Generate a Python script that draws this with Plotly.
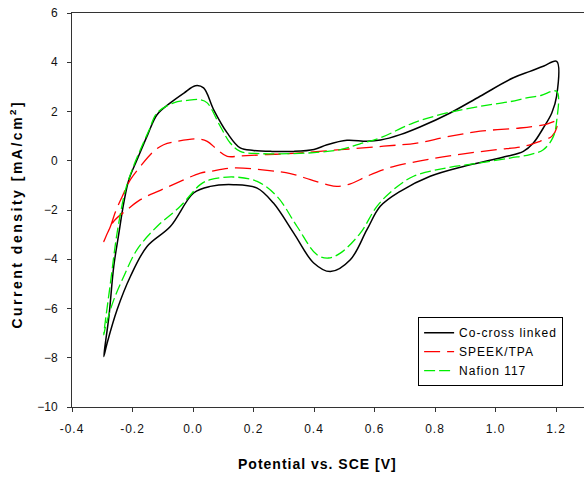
import plotly.graph_objects as go

# Co-cross linked (black, solid): anodic scan then cathodic scan
black_x = [-0.295, -0.278, -0.262, -0.245, -0.229, -0.212, -0.185, -0.15, -0.119, -0.075, -0.03,
           0.008, 0.035, 0.068, 0.113, 0.156, 0.2, 0.26, 0.333, 0.4, 0.443, 0.509, 0.575, 0.62,
           0.685, 0.75, 0.85, 0.949, 1.059, 1.114, 1.16, 1.202,
           1.202, 1.186, 1.158, 1.125, 1.092, 1.037, 0.982, 0.894, 0.784, 0.685, 0.619, 0.575,
           0.52, 0.454, 0.399, 0.333, 0.266, 0.212, 0.134, 0.057, 0.002, -0.075, -0.152, -0.207,
           -0.251, -0.284, -0.295]
black_y = [-7.95, -6.33, -4.29, -2.94, -1.72, -0.77, 0.04, 1.05, 1.87, 2.35, 2.75,
           3.05, 2.96, 2.08, 1.13, 0.52, 0.42, 0.38, 0.38, 0.46, 0.65, 0.83, 0.79, 0.84,
           1.06, 1.37, 1.94, 2.62, 3.37, 3.63, 3.85, 4.04,
           2.62, 1.94, 1.33, 0.72, 0.38, 0.18, 0.02, -0.23, -0.63, -1.24, -1.85, -2.8,
           -4.02, -4.5, -4.15, -2.94, -1.72, -1.11, -0.97, -1.04, -1.31, -2.67, -3.48, -4.7,
           -6.05, -7.41, -7.95]

# SPEEK/TPA (red, long dash)
red_x = [-0.295, -0.273, -0.256, -0.234, -0.207, -0.174, -0.13, -0.097, -0.053, 0.013, 0.047,
         0.08, 0.113, 0.16, 0.245, 0.333, 0.487, 0.63, 0.74, 0.839, 0.949, 1.081, 1.164, 1.202,
         1.202, 1.186, 1.147, 1.092, 1.004, 0.894, 0.784, 0.674, 0.63, 0.575, 0.52, 0.476,
         0.443, 0.388, 0.322, 0.245, 0.134, 0.057, 0.024, -0.042, -0.108, -0.174, -0.218,
         -0.262, -0.295]
red_y = [-3.28, -2.67, -2.06, -1.45, -0.77, -0.23, 0.38, 0.65, 0.79, 0.89, 0.79,
         0.45, 0.18, 0.2, 0.25, 0.3, 0.45, 0.59, 0.72, 0.97, 1.2, 1.33, 1.47, 1.6,
         1.33, 0.99, 0.79, 0.58, 0.45, 0.28, 0.07, -0.2, -0.36, -0.63, -0.94, -1.04,
         -0.97, -0.77, -0.52, -0.39, -0.29, -0.43, -0.5, -0.84, -1.2, -1.58, -1.99,
         -2.46, -3.28]

# Nafion 117 (green, dashed)
green_x = [-0.295, -0.273, -0.251, -0.223, -0.201, -0.174, -0.145, -0.119, -0.064, -0.02,
           0.024, 0.047, 0.09, 0.123, 0.156, 0.223, 0.333, 0.42, 0.487, 0.55, 0.619, 0.729,
           0.839, 0.949, 1.048, 1.103, 1.15, 1.202,
           1.202, 1.19, 1.158, 1.114, 1.048, 0.949, 0.839, 0.729, 0.663, 0.608, 0.553, 0.487,
           0.448, 0.41, 0.344, 0.278, 0.212, 0.134, 0.057, 0.024, -0.042, -0.119, -0.185,
           -0.229, -0.262, -0.289, -0.295]
green_y = [-7.07, -4.97, -2.94, -1.17, -0.36, 0.45, 1.25, 1.94, 2.35, 2.45,
           2.48, 2.35, 1.4, 0.72, 0.38, 0.29, 0.29, 0.35, 0.45, 0.68, 0.93, 1.54,
           1.94, 2.21, 2.4, 2.55, 2.65, 2.82,
           1.6, 0.95, 0.45, 0.25, 0.11, -0.09, -0.29, -0.63, -1.17, -1.85, -2.94, -3.75,
           -3.95, -3.82, -2.67, -1.45, -0.84, -0.66, -0.77, -0.97, -1.85, -2.67, -3.61,
           -4.7, -5.65, -6.73, -7.07]

series_names = ["Co-cross linked", "SPEEK/TPA", "Nafion 117"]

x_ticks = [-0.4, -0.2, 0.0, 0.2, 0.4, 0.6, 0.8, 1.0, 1.2]
x_tick_labels = ["-0.4", "-0.2", "0.0", "0.2", "0.4", "0.6", "0.8", "1.0", "1.2"]
y_ticks = [-10, -8, -6, -4, -2, 0, 2, 4, 6]

FONT = "Liberation Sans, Arial, sans-serif"

def sp(text, px):
    return '<span style="letter-spacing:%spx">%s</span>' % (px, text)

fig = go.Figure()
styles = [
    (black_x, black_y, "#000000", 1.5, "solid"),
    (red_x, red_y, "#ff0000", 1.3, "16px,7px"),
    (green_x, green_y, "#00ee00", 1.3, "11px,4px"),
]
for (xs, ys, col, w, dash), name in zip(styles, series_names):
    fig.add_trace(go.Scatter(
        x=xs, y=ys, mode="lines", name=sp(name, 1),
        line=dict(color=col, width=w, dash=dash, shape="spline", smoothing=1.0),
    ))

fig.update_layout(
    width=584, height=478,
    margin=dict(l=72, r=0, t=13, b=71, autoexpand=False),
    paper_bgcolor="white", plot_bgcolor="white",
    font=dict(family=FONT, size=12, color="#000000"),
    showlegend=True,
    legend=dict(
        x=0.676, y=0.228, xanchor="left", yanchor="top",
        bgcolor="white", bordercolor="#000000", borderwidth=1,
        font=dict(family=FONT, size=12, color="#000000"),
        tracegroupgap=0, entrywidth=146, entrywidthmode="pixels",
    ),
    xaxis=dict(
        range=[-0.4, 1.2925], tickvals=x_ticks, ticktext=[sp(t, 1) for t in x_tick_labels],
        ticks="outside", ticklen=4, tickcolor="#333333", tickwidth=1,
        showline=True, linecolor="#333333", linewidth=1, mirror=True,
        showgrid=False, zeroline=False, ticklabelstandoff=7, automargin=False,
        tickfont=dict(family=FONT, size=12, color="#111111"),
    ),
    yaxis=dict(
        range=[-10, 6], tickvals=y_ticks,
        ticks="outside", ticklen=4, tickcolor="#333333", tickwidth=1,
        showline=True, linecolor="#333333", linewidth=1, mirror=False,
        showgrid=False, zeroline=False, ticklabelstandoff=7, automargin=False,
        tickfont=dict(family=FONT, size=12, color="#111111"),
    ),
    annotations=[
        dict(text="<b>" + sp("Potential vs. SCE [V]", 1) + "</b>", xref="paper", yref="paper",
             x=0.479, y=-0.145, xanchor="center", yanchor="middle", showarrow=False,
             font=dict(family=FONT, size=14, color="#000000")),
        dict(text="<b>" + sp("Current density [mA/cm<sup>2</sup>]", 2.5) + "</b>",
             xref="paper", yref="paper", x=-0.11, y=0.49, textangle=-90,
             xanchor="center", yanchor="middle", showarrow=False,
             font=dict(family=FONT, size=14, color="#000000")),
    ],
)

fig.write_html(
    "out.html",
    config={"displayModeBar": False},
    post_script="document.body.style.margin='0';document.body.style.overflow='hidden';",
)
